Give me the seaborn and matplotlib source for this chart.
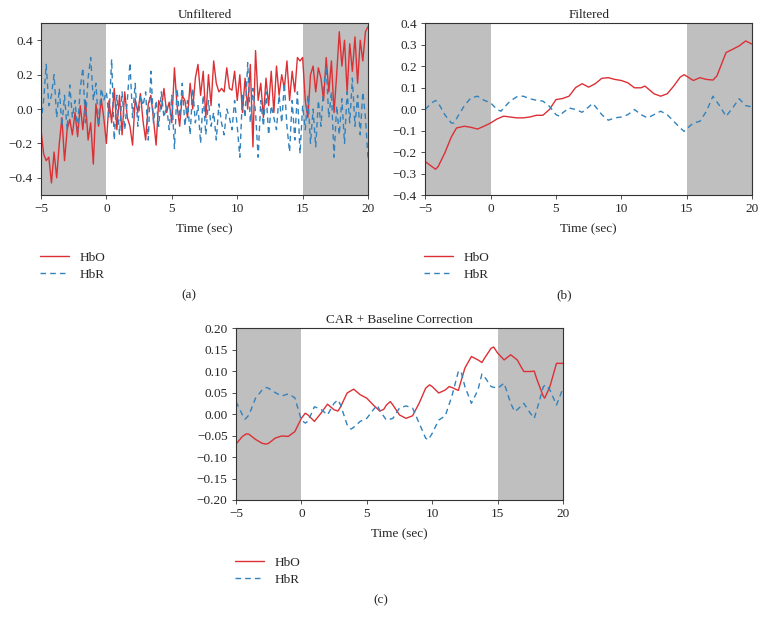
import numpy as np
import pandas as pd
import matplotlib
matplotlib.use("Agg")
import matplotlib.pyplot as plt
import seaborn as sns

# time axes (sec)
t_raw = np.round(np.arange(-5, 20.01, 0.2), 2)

# Unfiltered
hbo_raw = [
    -0.12, -0.26, -0.30, -0.28, -0.43,
    -0.25, -0.40, -0.20, -0.05, -0.30,
    -0.12, -0.06, -0.15, -0.02, -0.16,
    0.02, -0.12, 0.05, -0.18, -0.08,
    -0.32, 0.03, -0.10, 0.06, -0.05,
    -0.20, 0.05, -0.08, 0.12, -0.12,
    0.08, -0.15, 0.10, -0.05, -0.10,
    -0.21, 0.06, -0.02, 0.09, -0.07,
    -0.18, 0.03, 0.08, -0.06, -0.21,
    0.05, 0.00, 0.12, -0.02, 0.04,
    -0.08, 0.24, 0.02, -0.10, 0.08,
    0.05, -0.05, 0.15, 0.00, 0.18,
    0.26, 0.08, 0.22, -0.05, 0.20,
    0.02, 0.28, 0.15, 0.10, 0.12,
    0.10, 0.24, 0.12, 0.11, 0.22,
    0.05, 0.20, -0.02, 0.18, 0.00,
    0.26, -0.22, 0.34, 0.05, 0.15,
    -0.05, 0.18, 0.02, 0.22, -0.02,
    0.25, 0.08, 0.20, 0.12, 0.28,
    0.05, 0.22, 0.10, 0.30, 0.28,
    0.30, 0.05, -0.05, 0.20, 0.25,
    0.10, 0.24, 0.18, 0.05, 0.30,
    0.10, 0.28, -0.02, 0.20, 0.45,
    0.25, 0.40, 0.10, 0.38, 0.22,
    0.42, 0.15, 0.40, 0.28, 0.45,
    0.48,
]
hbr_raw = [
    -0.08, 0.05, 0.26, 0.02, 0.08,
    0.20, -0.05, 0.12, -0.10, 0.08,
    -0.12, 0.14, -0.05, 0.05, -0.12,
    0.12, 0.24, -0.08, 0.18, 0.30,
    0.05, 0.15, -0.10, 0.12, 0.05,
    0.10, -0.05, 0.29, -0.18, 0.08,
    -0.15, 0.10, -0.12, 0.05, 0.27,
    -0.05, 0.15, -0.10, 0.08, 0.02,
    0.10, -0.18, 0.22, -0.08, 0.05,
    -0.10, 0.10, -0.05, 0.02, -0.12,
    0.08, -0.23, 0.12, -0.05, 0.15,
    -0.10, 0.05, -0.15, 0.12, -0.08,
    0.02, -0.20, 0.08, -0.15, 0.05,
    -0.10, -0.02, -0.18, 0.03, -0.08,
    -0.15, 0.00, -0.05, -0.12, 0.05,
    -0.10, -0.28, 0.08, -0.05, 0.27,
    -0.08, 0.12, -0.02, -0.28, 0.05,
    -0.10, 0.10, -0.15, 0.02, -0.05,
    -0.12, 0.08, -0.08, 0.15, -0.10,
    -0.25, 0.05, -0.18, 0.10, -0.26,
    0.02, -0.12, 0.08, -0.20, 0.00,
    -0.22, 0.05, -0.10, 0.12, 0.25,
    -0.05, 0.10, -0.28, 0.02, -0.15,
    0.06, -0.20, 0.10, -0.08, 0.18,
    -0.10, 0.08, -0.15, 0.10, -0.05,
    -0.29,
]

# Filtered
t_filt = [-5, -4.5, -4.2, -4, -3.5, -3, -2.6, -2, -1.5, -1, -0.5, 0, 0.5, 1, 1.5, 2,
          2.5, 3, 3.5, 4, 4.5, 5, 5.5, 6, 6.5, 7, 7.5, 8, 8.5, 9, 9.5, 10, 10.5, 11,
          11.5, 11.8, 12.5, 13, 13.5, 14, 14.5, 14.8, 15.5, 16, 16.5, 17, 17.3, 17.5,
          18, 18.5, 19, 19.5, 20]
hbo_filt = [-0.244, -0.267, -0.28, -0.267, -0.205, -0.13, -0.088, -0.08, -0.085, -0.093,
            -0.08, -0.065, -0.046, -0.033, -0.037, -0.041, -0.041, -0.037, -0.029, -0.029,
            -0.002, 0.044, 0.049, 0.06, 0.10, 0.118, 0.102, 0.118, 0.143, 0.146,
            0.138, 0.133, 0.122, 0.099, 0.099, 0.107, 0.071, 0.06, 0.071, 0.107,
            0.149, 0.16, 0.133, 0.146, 0.138, 0.135, 0.154, 0.185, 0.263, 0.278,
            0.294, 0.317, 0.302]
t_filt_r = [-5, -4.5, -4.2, -4, -3.5, -3, -2.8, -2.5, -2, -1.5, -1, -0.5, 0, 0.5, 0.8,
            1, 1.5, 2, 2.5, 3, 3.5, 4, 4.5, 5, 5.3, 5.5, 6, 6.5, 7, 7.5, 7.8, 8, 8.5,
            9, 9.5, 10, 10.5, 11, 11.5, 12, 12.5, 13, 13.5, 14, 14.5, 14.8, 15, 15.5,
            16, 16.5, 17, 17.5, 18, 18.5, 19, 19.5, 20]
hbr_filt = [-0.002, 0.029, 0.04, 0.029, -0.026, -0.065, -0.065, -0.034, 0.016, 0.052,
            0.06, 0.041, 0.029, -0.002, -0.01, 0.005, 0.037, 0.057, 0.06, 0.048,
            0.041, 0.037, 0.013, -0.026, -0.034, -0.018, 0.005, -0.002, -0.015, 0.01,
            0.026, 0.013, -0.026, -0.052, -0.041, -0.037, -0.026, -0.002, -0.026, -0.041,
            -0.026, -0.01, -0.026, -0.057, -0.088, -0.104, -0.091, -0.065, -0.057, -0.01,
            0.06, 0.016, -0.034, 0.005, 0.048, 0.016, 0.01]

# CAR + baseline correction
t_car = [-5, -4.5, -4.2, -4, -3.5, -3, -2.7, -2.5, -2, -1.5, -1, -0.5, 0, 0.3, 0.5, 1,
         1.5, 2, 2.5, 2.8, 3, 3.5, 4, 4.5, 5, 5.5, 6, 6.3, 6.5, 6.8, 7, 7.5, 8, 8.5,
         9, 9.5, 9.8, 10, 10.5, 11, 11.3, 11.5, 12, 12.5, 13, 13.5, 13.8, 14, 14.5,
         14.7, 15, 15.5, 16, 16.5, 17, 17.5, 17.8, 18, 18.5, 18.6, 19, 19.5, 20]
hbo_car = [-0.070, -0.052, -0.046, -0.047, -0.059, -0.068, -0.070, -0.068, -0.056, -0.051,
           -0.052, -0.041, -0.010, 0.002, -0.002, -0.017, 0.002, 0.023, 0.010, 0.007,
           0.017, 0.049, 0.058, 0.045, 0.037, 0.021, 0.007, 0.011, 0.021, 0.029,
           0.021, -0.002, -0.010, -0.004, 0.025, 0.060, 0.068, 0.064, 0.049, 0.056,
           0.064, 0.062, 0.055, 0.107, 0.134, 0.126, 0.120, 0.130, 0.153, 0.156,
           0.142, 0.126, 0.138, 0.126, 0.099, 0.099, 0.100, 0.081, 0.041, 0.037,
           0.064, 0.118, 0.118]
t_car_r = [-5, -4.5, -4.3, -4, -3.5, -3, -2.7, -2.5, -2, -1.5, -1, -0.5, 0, 0.3, 0.5, 1,
           1.5, 2, 2.5, 2.8, 3, 3.5, 3.8, 4, 4.5, 5, 5.5, 5.8, 6, 6.5, 7, 7.5, 8, 8.5,
           9, 9.5, 9.7, 10, 10.5, 11, 11.5, 12, 12.2, 12.5, 13, 13.5, 13.8, 14, 14.5,
           15, 15.5, 16, 16.3, 16.5, 17, 17.5, 17.8, 18, 18.5, 18.7, 19, 19.5, 20]
hbr_car = [0.029, -0.002, -0.012, -0.002, 0.037, 0.056, 0.062, 0.060, 0.050, 0.042,
           0.047, 0.038, -0.014, -0.021, -0.017, 0.017, 0.011, -0.002, 0.025, 0.033,
           0.021, -0.025, -0.035, -0.031, -0.017, -0.010, 0.010, 0.021, 0.008, -0.014,
           -0.010, 0.014, 0.019, 0.014, -0.021, -0.056, -0.060, -0.045, -0.014, -0.004,
           0.041, 0.099, 0.100, 0.064, 0.025, 0.056, 0.093, 0.087, 0.064, 0.060,
           0.072, 0.025, 0.006, 0.010, 0.025, 0.002, -0.010, 0.010, 0.064, 0.068,
           0.056, 0.021, 0.060]

sns.set_style("ticks")
plt.rcParams["font.family"] = ["Liberation Serif", "DejaVu Serif"]
fs = 9.5
plt.rcParams["font.size"] = fs

red = "#dc3035"
blue = "#3182bd"
shade = "#bfbfbf"

fig = plt.figure(figsize=(7.66, 6.25), dpi=100)

panels = [
    ([0.0535, 0.688, 0.427, 0.275], "Unfiltered", (t_raw, hbo_raw), (t_raw, hbr_raw),
     (-0.5, 0.5), [-0.4, -0.2, 0.0, 0.2, 0.4], "{:.1f}"),
    ([0.555, 0.688, 0.427, 0.275], "Filtered", (t_filt, hbo_filt), (t_filt_r, hbr_filt),
     (-0.4, 0.4), np.round(np.arange(-0.4, 0.41, 0.1), 1), "{:.1f}"),
    ([0.308, 0.2, 0.427, 0.275], "CAR + Baseline Correction", (t_car, hbo_car), (t_car_r, hbr_car),
     (-0.2, 0.2), np.round(np.arange(-0.2, 0.201, 0.05), 2), "{:.2f}"),
]

for rect, title, oxy, deoxy, ylim, yticks, fmt in panels:
    ax = fig.add_axes(rect)
    ax.axvspan(-5, 0, color=shade, lw=0, zorder=0)
    ax.axvspan(15, 20, color=shade, lw=0, zorder=0)
    sns.lineplot(x=oxy[0], y=oxy[1], ax=ax, color=red, lw=1.0, label="HbO")
    sns.lineplot(x=deoxy[0], y=deoxy[1], ax=ax, color=blue, lw=1.0,
                 linestyle=(0, (4, 3)), label="HbR")
    ax.set_xlim(-5, 20)
    ax.set_ylim(*ylim)
    ax.set_xticks([-5, 0, 5, 10, 15, 20])
    ax.set_xticklabels(["\u22125", "0", "5", "10", "15", "20"])
    ax.set_yticks(yticks)
    ax.set_yticklabels([fmt.format(float(v) + 0.0).replace("-", "\u2212") for v in yticks])
    ax.set_title(title, fontsize=fs, pad=4)
    ax.set_xlabel("Time (sec)", fontsize=fs, labelpad=6)
    ax.set_ylabel("")
    ax.tick_params(labelsize=fs, length=3, width=0.6, color="#333333", pad=3)
    for s in ax.spines.values():
        s.set_linewidth(0.8)
        s.set_color("#333333")
    ax.legend(loc="upper left", bbox_to_anchor=(-0.02, -0.30), frameon=False,
              fontsize=fs, handlelength=2.2, labelspacing=0.35, borderaxespad=0)

fig.text(189 / 766, 1 - 295 / 625, "(a)", ha="center", va="center", fontsize=fs)
fig.text(564 / 766, 1 - 295 / 625, "(b)", ha="center", va="center", fontsize=fs)
fig.text(381 / 766, 1 - 600 / 625, "(c)", ha="center", va="center", fontsize=fs)

fig.savefig("out.png", dpi=100)
